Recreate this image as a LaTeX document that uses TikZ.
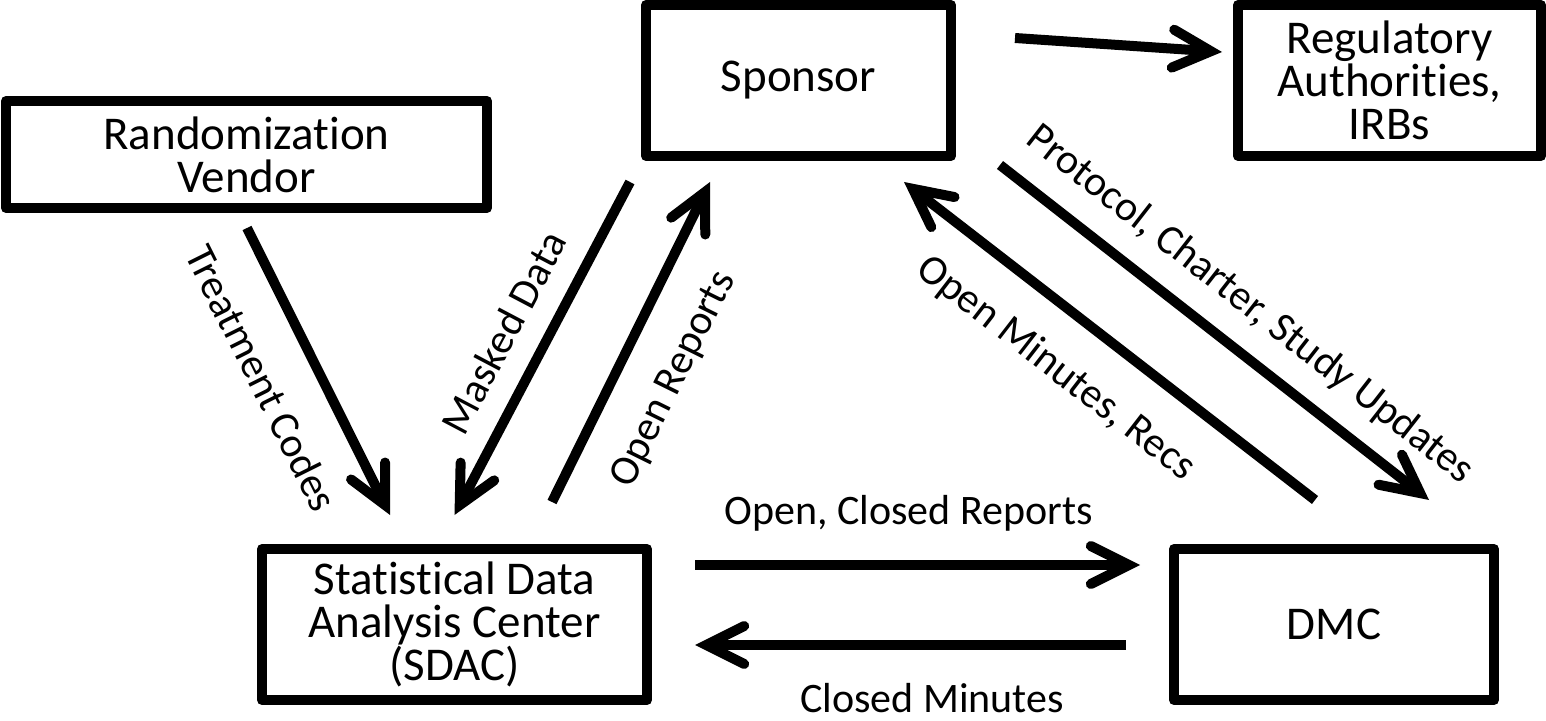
\documentclass[tikz,border=0pt]{standalone}
\usepackage{fontspec}
\setmainfont{Carlito}[RawFeature={-liga;-clig;-calt;-dlig}]
\usetikzlibrary{arrows.meta,calc}
\lineskiplimit=-20pt\relax

\begin{document}
\begin{tikzpicture}[x=0.5pt, y=-0.5pt,
  box/.style={draw, line width=5pt, line join=round, align=center, minimum height=75.5pt,
    font=\fontsize{23.5}{21.5}\selectfont},
  flow/.style={line width=5pt, -{Straight Barb[length=19pt, width=19pt, line cap=round]}},
  lbl/.style={font=\fontsize{21}{25}\selectfont, inner sep=0pt}]
\useasboundingbox (0,0) rectangle (1546,721);

\node[box, minimum width=152.5pt] (sponsor) at (798.5,80.5) {Sponsor};
\node[box, minimum width=151.5pt] (reg) at (1389.5,80.5) {Regulatory\\Authorities,\\IRBs};
\node[box, minimum width=240.5pt, minimum height=53.5pt] (rand) at (246.5,154.5) {Randomization\\Vendor};
\node[box, minimum width=192.5pt] (sdac) at (454.5,624.5) {Statistical Data\\Analysis Center\\(SDAC)};
\node[box, minimum width=160pt] (dmc) at (1334,624.5) {DMC};

\draw[flow] ($(sponsor.north east)+(59,38)$) -- ($(reg.north west)+(-11,52)$);
\draw[flow] ($(rand.south)+(0.5,15)$) -- ($(sdac.north)+(-64.5,-29)$)
  node[lbl, sloped, pos=0.44, yshift=-26.75pt] (treat) {Treatment Codes};
\draw[flow] ($(sponsor.south)+(-168.5,21)$) -- ($(sdac.north)+(0,-29)$)
  node[lbl, sloped, pos=0.51, yshift=20.9pt] (masked) {Masked Data};
\draw[flow] ($(sdac.north)+(97.5,-42)$) -- ($(sponsor.south)+(-88.5,21)$)
  node[lbl, sloped, pos=0.46, yshift=-27.7pt] (openrep) {Open Reports};
\draw[flow] ($(sdac.east)+(43,-59.5)$) -- ($(dmc.west)+(-29,-59.5)$)
  node[lbl, pos=0.48, yshift=26pt] (ocrep) {Open, Closed Reports};
\draw[flow] ($(dmc.west)+(-43,20.5)$) -- ($(sdac.east)+(43,20.5)$)
  node[lbl, pos=0.45, yshift=-26.5pt] (closedmin) {Closed Minutes};
\draw[flow] ($(dmc.north)+(-19,-44)$) -- ($(sponsor.south)+(105.5,21)$)
  node[lbl, sloped, pos=0.55, yshift=-27.4pt] (openmin) {Open Minutes, Recs};
\draw[flow] ($(sponsor.south)+(201.5,4)$) -- ($(dmc.north)+(95,-44)$)
  node[lbl, sloped, pos=0.52, yshift=21.7pt] (protocol) {Protocol, Charter, Study Updates};
\end{tikzpicture}
\end{document}
